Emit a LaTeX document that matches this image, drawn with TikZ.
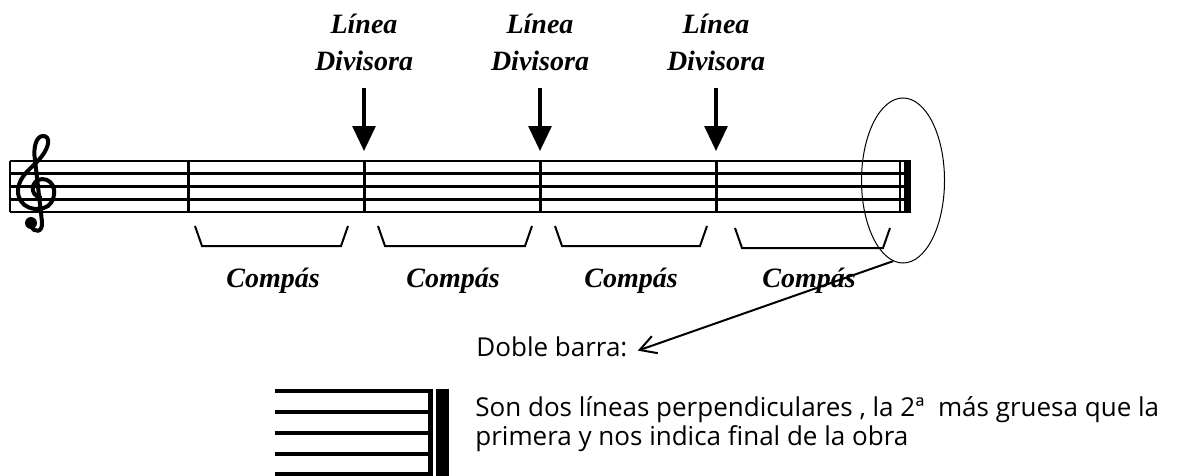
\documentclass[tikz,border=0pt]{standalone}
\usepackage{fontspec}
\setmainfont{Open Sans}
\newfontfamily\goudy{Liberation Serif}
\usetikzlibrary{arrows.meta,positioning,shapes.geometric}

\begin{document}
\begin{tikzpicture}[x=0.5pt,y=-0.5pt,
  staffline/.style={line width=1.4pt},
  barline/.style={line width=1.5pt},
  bracket/.style={line width=1pt},
  divisora/.style={font=\goudy\bfseries\itshape\fontsize{14}{18.5}\selectfont,align=center,inner sep=0pt},
  compas/.style={font=\goudy\bfseries\itshape\fontsize{14}{17}\selectfont,inner sep=0pt},
  note/.style={font=\fontsize{13}{12.5}\selectfont,inner sep=0pt},
  down/.style={-{Triangle[length=12.5pt,width=11.5pt]},line width=1.6pt,shorten <=8pt},
  pointer/.style={-{Straight Barb[length=8pt,width=9pt]},line width=1pt}]

  \useasboundingbox (0,0) rectangle (1182,476);

  % pentagrama
  \foreach \y in {161,173.75,186.5,199.25,212}
    \draw[staffline] (10,\y) -- (911,\y);
  \draw[line width=0.6pt] (10,161) -- (10,212);
  \foreach \x in {188,364,540,716}
    \draw[barline] (\x,161) -- (\x,212);
  \draw[line width=1pt] (900,161) -- (900,212);
  \fill (904,160) rectangle (911,213);

  % clave de sol
  \draw[line width=2pt,line cap=round]
    (40,197) .. controls (30,196) and (30,180) .. (42,179)
    .. controls (56,179) and (58,198) .. (48,206)
    .. controls (37,213) and (18,208) .. (18,191)
    .. controls (18,175) and (35,166) .. (42,156)
    .. controls (49,147) and (51,136) .. (43,136)
    .. controls (36,136) and (33,148) .. (35,160)
    -- (42,222)
    .. controls (43,233) and (34,233) .. (31,226);
  \fill (31,223) circle (3pt);

  % lineas divisorias
  \foreach \x/\n in {364/1,540/2,716/3}{
    \node[divisora,anchor=north] (div\n) at (\x,14) {Línea\\Divisora};
    \coordinate (bar\n) at (\x,151);
    \draw[down] (div\n.south) -- (bar\n);
  }

  % compases
  \foreach \a/\b/\t in {195/348/226,378/532/226,555/707/226,735/890/228}
    \draw[bracket] (\a,\t) -- (\a+7,\t+20) -- (\b-7,\t+20) -- (\b,\t);
  \foreach \x/\n in {273/1,453/2,631/3,809/4}
    \node[compas,anchor=base] (comp\n) at (\x,287) {Compás};

  % doble barra
  \node[draw,ellipse,minimum width=41.5pt,minimum height=82.5pt,inner sep=0pt,line width=0.5pt] (fin) at (903,180.5) {};
  \node[note,anchor=base west,inner xsep=5pt] (doble) at (466,356) {Doble barra:};
  \draw[pointer] (fin.263) -- (doble.mid east);

  \foreach \y in {391,412,433,454,474}
    \draw[line width=2pt] (275,\y) -- (430,\y);
  \fill (428,389) rectangle (433,476);
  \fill (436,389) rectangle (449,476);

  \node[note,anchor=base west,align=left] (desc) at (475,445)
    {Son dos líneas perpendiculares , la 2ª~ más gruesa que la\\primera y nos indica final de la obra};
\end{tikzpicture}
\end{document}
